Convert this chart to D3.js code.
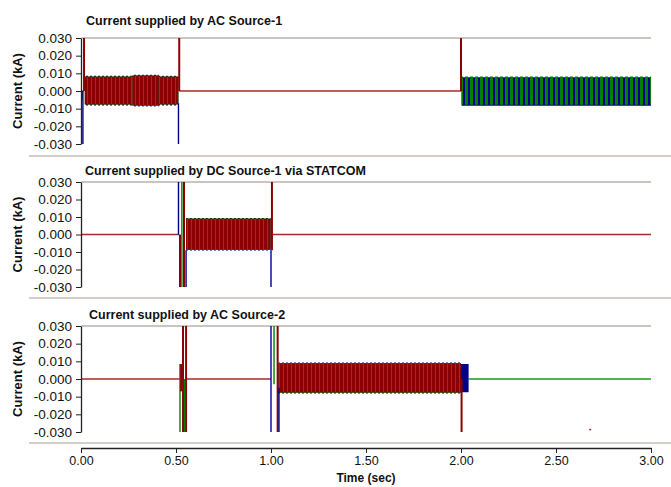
<!DOCTYPE html>
<html>
<head>
<meta charset="utf-8">
<script src="https://cdn.jsdelivr.net/npm/d3@7"></script>
<style>
  html, body { margin: 0; padding: 0; background: #fff; }
  svg { display: block; }
</style>
</head>
<body>
<svg id="chart" width="671" height="487"></svg>
<script>
// ---- axis ticks and titles ----
const timeTicks = [0, 0.5, 1.0, 1.5, 2.0, 2.5, 3.0];
const currentTicks = [-0.03, -0.02, -0.01, 0, 0.01, 0.02, 0.03];
const panelTitles = [
  "Current supplied by AC Source-1",
  "Current supplied by DC Source-1 via STATCOM",
  "Current supplied by AC Source-2"
];
const yLabel = "Current (kA)";
const xLabel = "Time (sec)";

// ---- phase currents (kA), phases a, b, c ----
// flat: steady value over an interval; bands: oscillation envelope (hi/lo);
// spikes: switching transients from v0 to v1 at instant t; dots: isolated samples.

// AC Source-1
const ac1Flat = [
  { phase: "a", t0: 0.0,   t1: 0.016, v: 0 },
  { phase: "a", t0: 0.517, t1: 2.0,   v: 0 }
];
const ac1Bands = [
  { phase: "c", t0: 0.02, t1: 0.27, hi: 0.0086, lo: -0.0082 },
  { phase: "b", t0: 0.02, t1: 0.27, hi: 0.0082, lo: -0.0076 },
  { phase: "a", t0: 0.02, t1: 0.27, hi: 0.0081, lo: -0.0076 },
  { phase: "c", t0: 0.27, t1: 0.41, hi: 0.0092, lo: -0.0087 },
  { phase: "b", t0: 0.27, t1: 0.41, hi: 0.0088, lo: -0.0083 },
  { phase: "a", t0: 0.27, t1: 0.41, hi: 0.0087, lo: -0.0082 },
  { phase: "c", t0: 0.41, t1: 0.512, hi: 0.0086, lo: -0.0082 },
  { phase: "b", t0: 0.41, t1: 0.512, hi: 0.0082, lo: -0.0076 },
  { phase: "a", t0: 0.41, t1: 0.512, hi: 0.0081, lo: -0.0076 },
  { phase: "c", t0: 2.003, t1: 3.0, hi: 0.0078, lo: -0.0084 },
  { phase: "b", t0: 2.003, t1: 3.0, hi: 0.0082, lo: -0.0078 }
];
const ac1Spikes = [
  { phase: "b", t: 0.006, v0: 0,      v1: -0.005 },
  { phase: "c", t: 0.010, v0: 0,      v1: -0.03 },
  { phase: "a", t: 0.016, v0: 0,      v1: 0.03 },
  { phase: "c", t: 0.513, v0: -0.007, v1: -0.03 },
  { phase: "a", t: 0.517, v0: 0,      v1: 0.03 },
  { phase: "a", t: 2.0,   v0: 0,      v1: 0.03 }
];
const ac1Dots = [];

// DC Source-1 via STATCOM
const dc1Flat = [
  { phase: "a", t0: 0.0,   t1: 0.516, v: 0 },
  { phase: "a", t0: 1.005, t1: 3.0,   v: 0 }
];
const dc1Bands = [
  { phase: "c", t0: 0.553, t1: 0.998, hi: 0.0094, lo: -0.0092 },
  { phase: "b", t0: 0.553, t1: 0.998, hi: 0.0092, lo: -0.0088 },
  { phase: "a", t0: 0.553, t1: 0.998, hi: 0.0090, lo: -0.0086 }
];
const dc1Spikes = [
  { phase: "c", t: 0.513, v0: 0,      v1: 0.03 },
  { phase: "a", t: 0.521, v0: 0,      v1: -0.03 },
  { phase: "b", t: 0.531, v0: 0.03,   v1: -0.03 },
  { phase: "a", t: 0.542, v0: 0.03,   v1: -0.03 },
  { phase: "c", t: 0.553, v0: -0.009, v1: -0.03 },
  { phase: "c", t: 1.0,   v0: -0.009, v1: -0.03 },
  { phase: "a", t: 1.005, v0: -0.009, v1: 0.03 }
];
const dc1Dots = [];

// AC Source-2
const ac2Flat = [
  { phase: "a", t0: 0.0,   t1: 0.52, v: 0 },
  { phase: "a", t0: 0.556, t1: 1.0,  v: 0 },
  { phase: "b", t0: 2.04,  t1: 3.0,  v: 0 }
];
const ac2Bands = [
  { phase: "c", t0: 1.04, t1: 2.0, hi: 0.0094, lo: -0.0082 },
  { phase: "b", t0: 1.04, t1: 2.0, hi: 0.0091, lo: -0.0078 },
  { phase: "a", t0: 1.04, t1: 2.0, hi: 0.0088, lo: -0.0076 },
  { phase: "c", t0: 2.0,  t1: 2.04, hi: 0.0085, lo: -0.0075 }
];
const ac2Spikes = [
  { phase: "b", t: 0.521, v0: 0.0085, v1: -0.03 },
  { phase: "a", t: 0.527, v0: 0.0085, v1: -0.007 },
  { phase: "a", t: 0.537, v0: 0.03,   v1: -0.03 },
  { phase: "b", t: 0.545, v0: 0,      v1: -0.03 },
  { phase: "a", t: 0.553, v0: 0.03,   v1: -0.03 },
  { phase: "c", t: 1.0,   v0: 0.03,   v1: -0.03 },
  { phase: "b", t: 1.016, v0: 0.03,   v1: -0.003 },
  { phase: "a", t: 1.035, v0: 0.03,   v1: -0.03 },
  { phase: "c", t: 1.042, v0: -0.005, v1: -0.03 },
  { phase: "a", t: 2.003, v0: 0,      v1: -0.03 }
];
const ac2Dots = [
  { phase: "a", t: 2.68, v: -0.0285 }
];

// ---- drawing ----
const phaseColor = { a: "#8b0000", b: "#008000", c: "#00008b" };
const flatColor = { a: "#a52a2a", b: "#1a9a1a", c: "#1a1a9a" };

const panels = [
  { title: panelTitles[0], flat: ac1Flat, bands: ac1Bands, spikes: ac1Spikes, dots: ac1Dots,
    top: 38, bottom: 144, titleX: 86, titleY: 24.5, sep: 156 },
  { title: panelTitles[1], flat: dc1Flat, bands: dc1Bands, spikes: dc1Spikes, dots: dc1Dots,
    top: 182, bottom: 287, titleX: 85, titleY: 174.5, sep: 298 },
  { title: panelTitles[2], flat: ac2Flat, bands: ac2Bands, spikes: ac2Spikes, dots: ac2Dots,
    top: 326, bottom: 432, titleX: 89, titleY: 318.5, sep: 443 }
];

const svg = d3.select("#chart");
const plotLeft = 81, plotRight = 651;
const x = d3.scaleLinear().domain([0, 3]).range([plotLeft, plotRight]);

const locale = d3.formatLocale({ decimal: ".", thousands: ",", grouping: [3], currency: ["", ""], minus: "-" });
const fmtY = locale.format(".3f");
const fmtX = locale.format(".2f");

// stripe patterns used to render the dense oscillation of each phase
const defs = svg.append("defs");
function stripe(id, col, period, x0, w) {
  const p = defs.append("pattern").attr("id", id)
    .attr("patternUnits", "userSpaceOnUse").attr("width", period).attr("height", 4);
  p.append("rect").attr("x", x0).attr("y", 0).attr("width", w).attr("height", 4).attr("fill", col);
}
Object.entries(phaseColor).forEach(([p, col]) => {
  stripe("dense-" + p, col, 4, 0, 3);
  stripe("half-" + p, col, 5, 0, 3);
  stripe("sparse-" + p, col, 4, 2, 2);
});

const overlaps = (a, b) => a.t0 < b.t1 && b.t0 < a.t1;

panels.forEach((P, i) => {
  const y = d3.scaleLinear().domain([-0.03, 0.03]).range([P.bottom, P.top]);
  const g = svg.append("g");

  // panel separator and plot top border
  svg.append("line").attr("x1", 29).attr("x2", 671).attr("y1", P.sep).attr("y2", P.sep)
    .attr("stroke", "#d3cfc7").attr("stroke-width", 2);
  g.append("line").attr("x1", plotLeft).attr("x2", plotRight).attr("y1", P.top).attr("y2", P.top)
    .attr("stroke", "#cac6be").attr("stroke-width", 2);

  // title
  g.append("text").attr("x", P.titleX).attr("y", P.titleY)
    .attr("font-family", "Liberation Sans, Arial, sans-serif").attr("font-weight", "bold")
    .attr("font-size", 12.5).attr("fill", "#111").text(P.title);

  // y axis label
  g.append("text")
    .attr("transform", `translate(22,${(P.top + P.bottom) / 2}) rotate(-90)`)
    .attr("text-anchor", "middle")
    .attr("font-family", "Liberation Sans, Arial, sans-serif").attr("font-weight", "bold")
    .attr("font-size", 13).attr("fill", "#111").text(yLabel);

  // clip region for the traces
  const clipId = "clip" + i;
  defs.append("clipPath").attr("id", clipId).append("rect")
    .attr("x", plotLeft).attr("y", P.top - 1).attr("width", plotRight - plotLeft + 1).attr("height", P.bottom - P.top + 2);
  const traces = g.append("g").attr("clip-path", `url(#${clipId})`);

  // flat segments
  traces.selectAll("line.flat").data(P.flat).join("line").attr("class", "flat")
    .attr("x1", d => x(d.t0)).attr("x2", d => x(d.t1))
    .attr("y1", d => y(d.v)).attr("y2", d => y(d.v))
    .attr("stroke", d => flatColor[d.phase]).attr("stroke-width", 1.3);

  // oscillation bands, layered in data order
  const area = d3.area().x(d => d.t).y0(d => d.lo).y1(d => d.hi);
  P.bands.forEach((b, k) => {
    const below = P.bands.slice(0, k).filter(o => overlaps(o, b)).length;
    const above = P.bands.slice(k + 1).filter(o => overlaps(o, b)).length;
    let fill;
    if (above === 0 && below >= 2) fill = `url(#dense-${b.phase})`;
    else if (above === 0 && below === 1) fill = `url(#half-${b.phase})`;
    else if (below === 0 && above >= 2) fill = `url(#sparse-${b.phase})`;
    else fill = phaseColor[b.phase];
    const pts = [
      { t: x(b.t0), hi: y(b.hi), lo: y(b.lo) },
      { t: x(b.t1), hi: y(b.hi), lo: y(b.lo) }
    ];
    traces.append("path").attr("d", area(pts)).attr("fill", fill);
  });

  // switching spikes
  traces.selectAll("line.spike").data(P.spikes).join("line").attr("class", "spike")
    .attr("x1", d => x(d.t)).attr("x2", d => x(d.t))
    .attr("y1", d => y(d.v0)).attr("y2", d => y(d.v1))
    .attr("stroke", d => phaseColor[d.phase])
    .attr("stroke-width", d => d.phase === "a" ? 2 : 1.4);

  // isolated samples
  traces.selectAll("rect.dot").data(P.dots).join("rect").attr("class", "dot")
    .attr("x", d => x(d.t) - 1).attr("y", d => y(d.v) - 0.5)
    .attr("width", 2).attr("height", 1.5)
    .attr("fill", d => flatColor[d.phase]);

  // y axis
  const yAxis = g.append("g").attr("transform", `translate(${plotLeft},0)`)
    .call(d3.axisLeft(y).tickValues(currentTicks).tickSize(5).tickSizeOuter(0).tickPadding(4).tickFormat(fmtY));
  yAxis.select(".domain").attr("stroke", "#222").attr("stroke-width", 1.3);
  yAxis.selectAll(".tick line").attr("stroke", "#222");
  yAxis.selectAll("text").attr("font-family", "Liberation Sans, Arial, sans-serif")
    .attr("font-size", 13.5).attr("fill", "#111");
});

// shared time axis
const xAxis = svg.append("g").attr("transform", "translate(0,448)")
  .call(d3.axisBottom(x).tickValues(timeTicks).tickSize(5).tickSizeOuter(0).tickPadding(3).tickFormat(fmtX));
xAxis.select(".domain").attr("stroke", "#222").attr("stroke-width", 1.3);
xAxis.selectAll(".tick line").attr("stroke", "#222");
xAxis.selectAll("text").attr("font-family", "Liberation Sans, Arial, sans-serif")
  .attr("font-size", 12.5).attr("fill", "#111");

svg.append("text").attr("x", 366).attr("y", 482).attr("text-anchor", "middle")
  .attr("font-family", "Liberation Sans, Arial, sans-serif").attr("font-weight", "bold")
  .attr("font-size", 12).attr("fill", "#111").text(xLabel);
</script>
</body>
</html>
